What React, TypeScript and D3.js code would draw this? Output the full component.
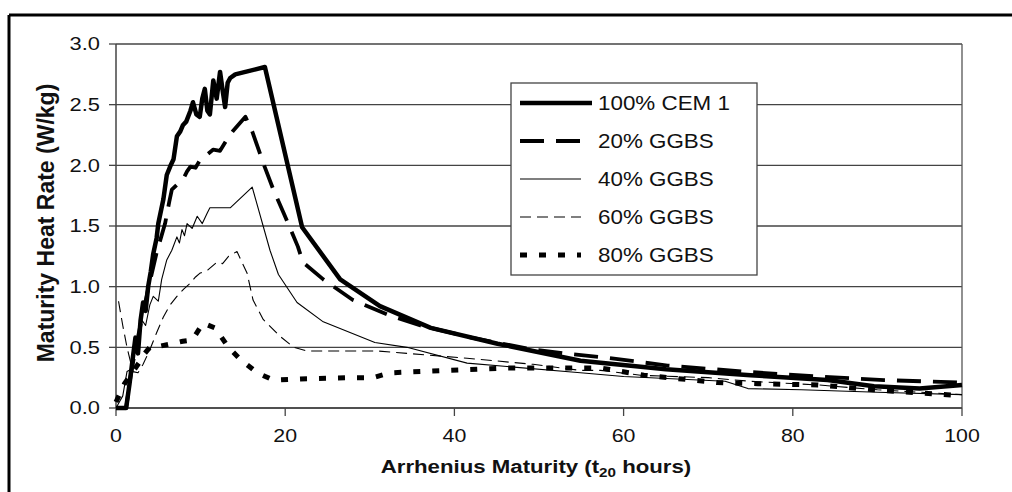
import React from "react";
import * as d3 from "d3";

// Maturity (t20 hours) vs heat rate (W/kg) for each binder blend
type Pt = [number, number];

const cem1: Pt[] = [
  [0, 0], [1.2, 0], [1.6, 0.2], [2.0, 0.42], [2.3, 0.58], [2.6, 0.45], [2.9, 0.72], [3.2, 0.87],
  [3.5, 0.8], [3.8, 1.0], [4.1, 1.12], [4.4, 1.27], [4.8, 1.4], [5.0, 1.52], [5.6, 1.72], [6.0, 1.92],
  [6.4, 1.99], [6.8, 2.05], [7.2, 2.24], [7.6, 2.28], [7.9, 2.33], [8.3, 2.36], [8.8, 2.45], [9.1, 2.52],
  [9.5, 2.42], [9.9, 2.4], [10.2, 2.55], [10.5, 2.63], [10.8, 2.45], [11.1, 2.42], [11.5, 2.7],
  [11.9, 2.55], [12.3, 2.77], [12.6, 2.62], [12.9, 2.48], [13.2, 2.68], [13.5, 2.72], [14.1, 2.75],
  [17.6, 2.81], [22.0, 1.49], [26.5, 1.06], [31.2, 0.84], [37.2, 0.66], [45.1, 0.53], [54.9, 0.39],
  [65, 0.32], [75, 0.27], [84.1, 0.23], [89.6, 0.18], [95, 0.16], [100, 0.19],
];

const ggbs20: Pt[] = [
  [0, 0], [1.2, 0], [1.7, 0.25], [2.2, 0.45], [2.7, 0.62], [3.2, 0.78], [3.7, 0.95], [4.2, 1.1],
  [4.8, 1.28], [5.3, 1.4], [5.8, 1.52], [6.3, 1.7], [6.6, 1.8], [7.2, 1.84], [7.9, 1.88], [8.4, 1.95],
  [8.8, 1.99], [9.4, 1.98], [9.9, 2.04], [10.6, 2.08], [11.5, 2.13], [12.3, 2.12], [13.0, 2.2],
  [13.8, 2.28], [15.3, 2.4], [16.1, 2.28], [17.4, 2.02], [18.6, 1.8], [19.8, 1.61], [21.5, 1.33],
  [22.1, 1.2], [24.5, 1.06], [28.0, 0.89], [32.1, 0.77], [36.0, 0.68], [42, 0.58], [48.6, 0.49],
  [52.9, 0.45], [57.3, 0.42], [65.2, 0.35], [74.2, 0.3], [83, 0.26], [90.8, 0.23], [100, 0.21],
];

const ggbs40: Pt[] = [
  [0, 0], [0.8, 0.1], [1.3, 0.3], [1.8, 0.32], [2.2, 0.45], [2.7, 0.62], [3.1, 0.72], [3.5, 0.68],
  [4.0, 0.85], [4.4, 0.92], [5.0, 0.88], [5.4, 1.06], [6.0, 1.22], [6.6, 1.3], [7.2, 1.41], [7.5, 1.36],
  [7.8, 1.47], [8.1, 1.42], [8.4, 1.52], [9.0, 1.48], [9.6, 1.58], [10.2, 1.52], [10.8, 1.61],
  [11.1, 1.65], [13.5, 1.65], [16.1, 1.82], [18.2, 1.3], [19.2, 1.1], [21.4, 0.87], [24.5, 0.71],
  [30.6, 0.54], [34.4, 0.5], [41.5, 0.37], [54.9, 0.29], [60, 0.26], [72, 0.22], [74.7, 0.16],
  [81, 0.15], [90, 0.13], [100, 0.11],
];

const ggbs60: Pt[] = [
  [0.3, 0.88], [0.8, 0.68], [1.3, 0.5], [2.0, 0.3], [2.6, 0.29], [3.2, 0.36], [4.0, 0.48], [4.8, 0.62],
  [5.6, 0.75], [6.4, 0.85], [7.2, 0.92], [8.0, 0.98], [8.8, 1.03], [9.4, 1.08], [9.9, 1.11],
  [10.9, 1.14], [11.9, 1.2], [12.6, 1.19], [13.3, 1.25], [14.3, 1.29], [15.5, 1.11], [16.2, 0.89],
  [17.4, 0.73], [19.4, 0.59], [21, 0.5], [22.6, 0.47], [30.9, 0.47], [34.4, 0.45], [41.5, 0.41],
  [49.3, 0.36], [54.9, 0.31], [57.3, 0.31], [62, 0.27], [70, 0.25], [75, 0.22], [83, 0.19],
  [90, 0.15], [100, 0.11],
];

const ggbs80: Pt[] = [
  [0, 0.05], [1, 0.2], [2, 0.3], [2.8, 0.38], [3.4, 0.45], [4.0, 0.5], [5.2, 0.51], [6.6, 0.53],
  [7.9, 0.55], [9.0, 0.56], [10.3, 0.7], [11.7, 0.66], [13.3, 0.5], [14.7, 0.4], [16.7, 0.29],
  [18.6, 0.23], [21.8, 0.24], [27.3, 0.25], [30.4, 0.25], [32.4, 0.29], [39.2, 0.31], [46.3, 0.33],
  [57.3, 0.33], [62.4, 0.27], [71.1, 0.21], [75.9, 0.2], [83, 0.19], [89.6, 0.15], [100, 0.1],
];

const seriesNames = ["100% CEM 1", "20% GGBS", "40% GGBS", "60% GGBS", "80% GGBS"];
const xTicks = [0, 20, 40, 60, 80, 100];
const yTicks = [0, 0.5, 1.0, 1.5, 2.0, 2.5, 3.0];

const styles = [
  { w: 4.5, dash: "none" },
  { w: 3.8, dash: "24 12" },
  { w: 1.1, dash: "none" },
  { w: 1.1, dash: "11 6" },
  { w: 5, dash: "7 12" },
];

const FONT = "'Liberation Sans', Arial, Helvetica, sans-serif";

// Text drawn with a horizontal stretch around its anchor point
function WideText(props: {
  x: number;
  y: number;
  sx: number;
  size: number;
  anchor?: "start" | "middle" | "end";
  bold?: boolean;
  dy?: string;
  children: React.ReactNode;
}) {
  const { x, y, sx, size, anchor = "start", bold = false, dy, children } = props;
  return (
    <g transform={`translate(${x},${y}) scale(${sx},1)`}>
      <text
        x={0}
        y={0}
        dy={dy}
        textAnchor={anchor}
        fontFamily={FONT}
        fontSize={size}
        fontWeight={bold ? "bold" : "normal"}
        fill="#111"
      >
        {children}
      </text>
    </g>
  );
}

export default function App() {
  const W = 1012;
  const H = 492;
  const left = 116, right = 962, top = 44, bottom = 408;

  const x = d3.scaleLinear().domain([0, 100]).range([left, right]);
  const y = d3.scaleLinear().domain([0, 3]).range([bottom, top]);
  const line = d3.line<Pt>().x((d) => x(d[0])).y((d) => y(d[1]));
  const data = [cem1, ggbs20, ggbs40, ggbs60, ggbs80];

  const legX = 511, legY = 83, legW = 246, legH = 192;
  const rowY = (i: number) => legY + 20 + i * 38;

  return (
    <svg width={W} height={H} style={{ position: "absolute", left: 0, top: 0, background: "#fff" }}>
      <rect x={0} y={0} width={W} height={H} fill="#fff" />
      {/* outer frame */}
      <line x1={9} y1={15} x2={W} y2={15} stroke="#000" strokeWidth={3} />
      <line x1={9} y1={15} x2={9} y2={H} stroke="#000" strokeWidth={3} />

      {/* gridlines */}
      {yTicks.map((t) => (
        <line key={"g" + t} x1={left} x2={right} y1={y(t)} y2={y(t)} stroke="#444" strokeWidth={1.3} />
      ))}
      <line x1={right} x2={right} y1={top} y2={bottom} stroke="#555" strokeWidth={1.3} />

      {/* axes */}
      <line x1={left} x2={left} y1={top} y2={bottom} stroke="#444" strokeWidth={1.5} />
      <line x1={left} x2={right} y1={bottom} y2={bottom} stroke="#444" strokeWidth={1.5} />
      {yTicks.map((t) => (
        <g key={"yt" + t}>
          <line x1={left - 7} x2={left} y1={y(t)} y2={y(t)} stroke="#444" strokeWidth={1.3} />
          <WideText x={100} y={y(t)} sx={1.25} size={17.5} anchor="end" dy="0.36em">
            {t.toFixed(1)}
          </WideText>
        </g>
      ))}
      {xTicks.map((t) => (
        <g key={"xt" + t}>
          <line x1={x(t)} x2={x(t)} y1={bottom} y2={bottom + 8} stroke="#444" strokeWidth={1.3} />
          <WideText x={x(t)} y={442} sx={1.22} size={17.5} anchor="middle">
            {t}
          </WideText>
        </g>
      ))}

      {/* series */}
      {data.map((d, i) => (
        <path
          key={"s" + i}
          d={line(d) ?? ""}
          fill="none"
          stroke="#000"
          strokeWidth={styles[i].w}
          strokeDasharray={styles[i].dash}
          strokeLinejoin="round"
        />
      ))}

      {/* legend */}
      <rect x={legX} y={legY} width={legW} height={legH} fill="#fff" stroke="#444" strokeWidth={1.3} />
      {seriesNames.map((n, i) => (
        <g key={"l" + i}>
          <line
            x1={legX + 9}
            x2={legX + (i === 0 ? 81 : 70)}
            y1={rowY(i)}
            y2={rowY(i)}
            stroke="#000"
            strokeWidth={styles[i].w}
            strokeDasharray={styles[i].dash}
          />
          <WideText x={legX + 87} y={rowY(i)} sx={1.12} size={20} dy="0.36em">
            {n}
          </WideText>
        </g>
      ))}

      {/* axis titles */}
      <WideText x={536} y={473} sx={1.17} size={19} anchor="middle" bold>
        Arrhenius Maturity (t
        <tspan fontSize={13} dy={4}>20</tspan>
        <tspan dy={-4}> hours)</tspan>
      </WideText>
      <text
        transform={`translate(54, 223) rotate(-90)`}
        textAnchor="middle"
        fontFamily={FONT}
        fontSize={23}
        fontWeight="bold"
        fill="#111"
      >
        Maturity Heat Rate (W/kg)
      </text>
    </svg>
  );
}
